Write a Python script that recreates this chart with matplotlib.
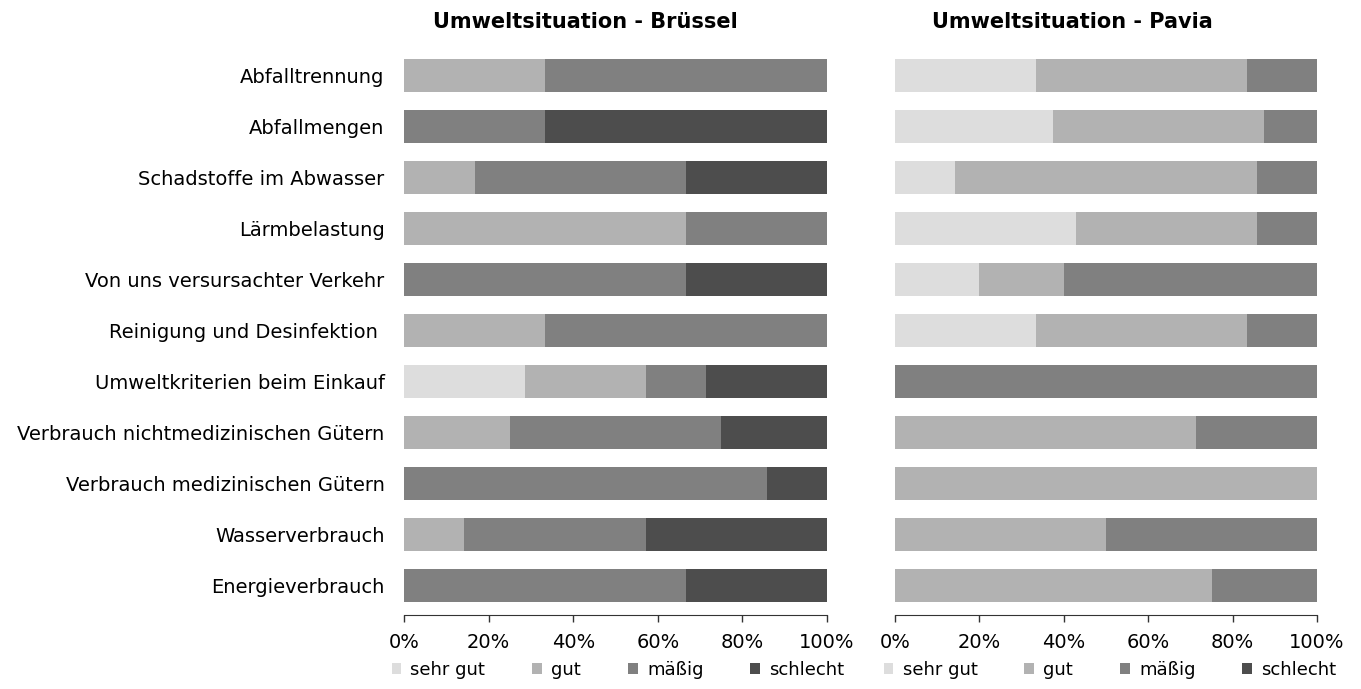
import matplotlib.pyplot as plt
import numpy as np

plt.rcParams['font.family'] = 'DejaVu Sans'

kategorien = ['Abfalltrennung', 'Abfallmengen', 'Schadstoffe im Abwasser', 'Lärmbelastung',
              'Von uns versursachter Verkehr', 'Reinigung und Desinfektion ',
              'Umweltkriterien beim Einkauf', 'Verbrauch nichtmedizinischen Gütern',
              'Verbrauch medizinischen Gütern', 'Wasserverbrauch', 'Energieverbrauch']
stufen = ['sehr gut', 'gut', 'mäßig', 'schlecht']
farben = ['#dddddd', '#b2b2b2', '#808080', '#4d4d4d']

# Anteile in Prozent je Kategorie (sehr gut, gut, mäßig, schlecht)
bruessel_sehr_gut = [0, 0, 0, 0, 0, 0, 28.6, 0, 0, 0, 0]
bruessel_gut      = [33.3, 0, 16.7, 66.7, 0, 33.3, 28.6, 25, 0, 14.3, 0]
bruessel_maessig  = [66.7, 33.3, 50, 33.3, 66.7, 66.7, 14.3, 50, 85.7, 42.9, 66.7]
bruessel_schlecht = [0, 66.7, 33.3, 0, 33.3, 0, 28.6, 25, 14.3, 42.9, 33.3]

pavia_sehr_gut = [33.3, 37.5, 14.3, 42.9, 20, 33.3, 0, 0, 0, 0, 0]
pavia_gut      = [50, 50, 71.4, 42.9, 20, 50, 0, 71.4, 100, 50, 75]
pavia_maessig  = [16.7, 12.5, 14.3, 14.3, 60, 16.7, 100, 28.6, 0, 50, 25]
pavia_schlecht = [0, 0, 0, 0, 0, 0, 0, 0, 0, 0, 0]

fig = plt.figure(figsize=(13.61, 6.89), dpi=100)
ax1 = fig.add_axes([404/1361, 1-615/689, 423/1361, 569/689])
ax2 = fig.add_axes([895/1361, 1-615/689, 422/1361, 569/689])

y = np.arange(len(kategorien))

def zeichne(ax, reihen, titel, tx, lx, labels=True):
    links = np.zeros(len(kategorien))
    for werte, farbe, name in zip(reihen, farben, stufen):
        werte = np.array(werte)
        ax.barh(y, werte, left=links, height=0.65, color=farbe, label=name,
                edgecolor='none')
        links += werte
    ax.set_xlim(0, 100)
    ax.set_ylim(len(kategorien) - 0.43, -0.57)
    ax.set_xticks(range(0, 101, 20))
    ax.set_xticklabels([f'{v}%' for v in range(0, 101, 20)], fontsize=14)
    ax.tick_params(axis='x', length=5, width=1, pad=8, color='#333333')
    ax.tick_params(axis='y', length=0, pad=14)
    if labels:
        ax.set_yticks(y)
        ax.set_yticklabels(kategorien, fontsize=14)
    else:
        ax.set_yticks([])
    for s in ['top', 'right', 'left']:
        ax.spines[s].set_visible(False)
    ax.spines['bottom'].set_color('#333333')
    fig.text(tx, 1-22/689, titel, ha='center', va='center', fontsize=15,
             fontweight='bold')
    fig.legend(*ax.get_legend_handles_labels(), loc='center',
               bbox_to_anchor=(lx, 1-670/689),
               ncol=4, frameon=False, fontsize=13, handlelength=0.55, handleheight=0.55,
               handletextpad=0.5, columnspacing=2.6, borderpad=0)

zeichne(ax1, [bruessel_sehr_gut, bruessel_gut, bruessel_maessig, bruessel_schlecht],
        'Umweltsituation - Brüssel', 585/1361, 618/1361)
zeichne(ax2, [pavia_sehr_gut, pavia_gut, pavia_maessig, pavia_schlecht],
        'Umweltsituation - Pavia', 1072/1361, 1110/1361, labels=False)

fig.savefig('out.png', dpi=100)
